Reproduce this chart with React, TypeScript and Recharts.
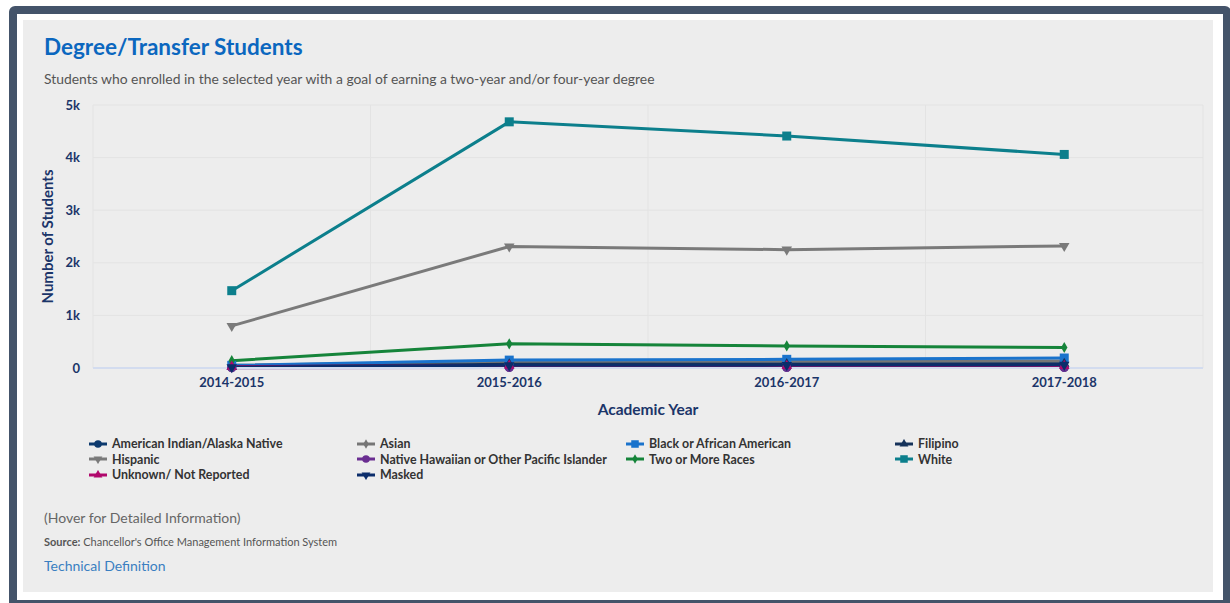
import React from 'react';
import { LineChart, Line, XAxis, YAxis, CartesianGrid, Symbols } from 'recharts';

const years = ['2014-2015', '2015-2016', '2016-2017', '2017-2018'];

const americanIndian = [10, 15, 14, 12];
const asian = [50, 120, 130, 135];
const black = [50, 150, 165, 190];
const filipino = [20, 70, 75, 80];
const hispanic = [800, 2310, 2250, 2320];
const nativeHawaiian = [5, 10, 10, 8];
const twoOrMore = [140, 460, 420, 390];
const white = [1470, 4680, 4410, 4060];
const unknown = [25, 45, 40, 40];
const masked = [15, 50, 55, 60];

const yTicks = [0, 1000, 2000, 3000, 4000, 5000];

const series = [
    { key: 'ai', name: 'American Indian/Alaska Native', values: americanIndian, color: '#0d3a6e', symbol: 'circle' },
    { key: 'as', name: 'Asian', values: asian, color: '#767676', symbol: 'diamond' },
    { key: 'bl', name: 'Black or African American', values: black, color: '#1a73cc', symbol: 'square' },
    { key: 'fi', name: 'Filipino', values: filipino, color: '#15325a', symbol: 'triangle' },
    { key: 'hi', name: 'Hispanic', values: hispanic, color: '#7a7a7a', symbol: 'triangle-down' },
    { key: 'nh', name: 'Native Hawaiian or Other Pacific Islander', values: nativeHawaiian, color: '#6a2e91', symbol: 'circle' },
    { key: 'tw', name: 'Two or More Races', values: twoOrMore, color: '#15843a', symbol: 'diamond' },
    { key: 'wh', name: 'White', values: white, color: '#0c7f8c', symbol: 'square' },
    { key: 'un', name: 'Unknown/ Not Reported', values: unknown, color: '#b1086c', symbol: 'triangle' },
    { key: 'ma', name: 'Masked', values: masked, color: '#0b2d6b', symbol: 'triangle-down' },
];

const data = years.map((year, i) => {
    const row: any = { year };
    series.forEach((s) => { row[s.key] = s.values[i]; });
    return row;
});

const font = 'Lato, "Open Sans", sans-serif';
const navy = '#1b3569';

// symbol area per marker type, roughly matching the 8-10px markers
const markerSize: any = { circle: 64, diamond: 36, square: 81, triangle: 48, 'triangle-down': 48 };

function Marker({ cx, cy, symbol, color, scale = 1 }: any) {
    if (cx == null || cy == null) return null;
    const down = symbol === 'triangle-down';
    const type = down ? 'triangle' : symbol;
    return (
        <g transform={down ? `rotate(180 ${cx} ${cy})` : undefined}>
            <Symbols cx={cx} cy={cy} type={type} size={markerSize[symbol] * scale} fill={color} stroke="none" />
        </g>
    );
}

function LegendIcon({ symbol, color }: any) {
    return (
        <svg width={18} height={10} style={{ marginRight: 5, flexShrink: 0 }}>
            <line x1={0} y1={5} x2={18} y2={5} stroke={color} strokeWidth={3} />
            <Marker cx={9} cy={5} symbol={symbol} color={color} scale={0.7} />
        </svg>
    );
}

export default function App() {
    return (
        <div style={{ position: 'fixed', left: 0, top: 0, width: 1230, height: 603, overflow: 'hidden', background: '#fff', fontFamily: font }}>
            <div style={{ position: 'absolute', left: 9, top: 6, width: 1222, height: 602, boxSizing: 'border-box', border: '8px solid #44546a', borderRadius: 6, background: '#fff' }} />
            <div style={{ position: 'absolute', left: 23, top: 20, width: 1190, height: 572, background: '#ededed' }}>
                <div style={{ position: 'absolute', left: 21, top: 13, fontSize: 22.5, fontWeight: 700, color: '#0b67bf' }}>
                    Degree/Transfer Students
                </div>
                <div style={{ position: 'absolute', left: 21, top: 50, fontSize: 13.9, color: '#555' }}>
                    Students who enrolled in the selected year with a goal of earning a two-year and/or four-year degree
                </div>
                <div style={{ position: 'absolute', left: 0, top: 70 }}>
                    <LineChart width={1190} height={340} data={data} margin={{ top: 15, right: 10, left: 0, bottom: 12 }}>
                        <CartesianGrid
                            stroke="#e3e3e3"
                            verticalCoordinatesGenerator={({ offset }: any) =>
                                [0, 1, 2, 3, 4].map((i) => offset.left + (offset.width * i) / years.length)
                            }
                        />
                        <XAxis
                            dataKey="year"
                            scale="band"
                            height={50}
                            axisLine={{ stroke: '#d3dcef', strokeWidth: 2 }}
                            tickLine={false}
                            tick={{ fill: navy, fontSize: 13, fontWeight: 700, fontFamily: font }}
                            tickMargin={4}
                            label={{ value: 'Academic Year', position: 'insideBottom', offset: 3, fill: navy, fontSize: 15.5, fontWeight: 700, fontFamily: font }}
                        />
                        <YAxis
                            width={70}
                            domain={[0, 5000]}
                            ticks={yTicks}
                            axisLine={false}
                            tickLine={false}
                            tickMargin={7}
                            tickFormatter={(v: number) => (v === 0 ? '0' : `${v / 1000}k`)}
                            tick={{ fill: navy, fontSize: 13, fontWeight: 700, fontFamily: font }}
                            label={{ value: 'Number of Students', angle: -90, position: 'insideLeft', offset: 25, fill: navy, fontSize: 15, fontWeight: 700, fontFamily: font, style: { textAnchor: 'middle' } }}
                        />
                        {series.map((s) => (
                            <Line
                                key={s.key}
                                dataKey={s.key}
                                name={s.name}
                                stroke={s.color}
                                strokeWidth={3}
                                isAnimationActive={false}
                                dot={(p: any) => <Marker key={`${s.key}-${p.index}`} cx={p.cx} cy={p.cy} symbol={s.symbol} color={s.color} />}
                                activeDot={false}
                            />
                        ))}
                    </LineChart>
                </div>
                <div style={{ position: 'absolute', left: 66, top: 416, width: 1080, display: 'grid', gridTemplateColumns: '268px 269px 269px 269px', rowGap: 0 }}>
                    {series.map((s) => (
                        <div key={s.key} style={{ display: 'flex', alignItems: 'center', height: 15.5, fontSize: 12.4, fontWeight: 700, color: '#333' }}>
                            <LegendIcon symbol={s.symbol} color={s.color} />
                            {s.name}
                        </div>
                    ))}
                </div>
                <div style={{ position: 'absolute', left: 21, top: 489, fontSize: 14, color: '#666' }}>
                    (Hover for Detailed Information)
                </div>
                <div style={{ position: 'absolute', left: 21, top: 515, fontSize: 11, color: '#555' }}>
                    <b>Source:</b> Chancellor's Office Management Information System
                </div>
                <div style={{ position: 'absolute', left: 21, top: 537, fontSize: 14, color: '#3a7fc1' }}>
                    Technical Definition
                </div>
            </div>
        </div>
    );
}
